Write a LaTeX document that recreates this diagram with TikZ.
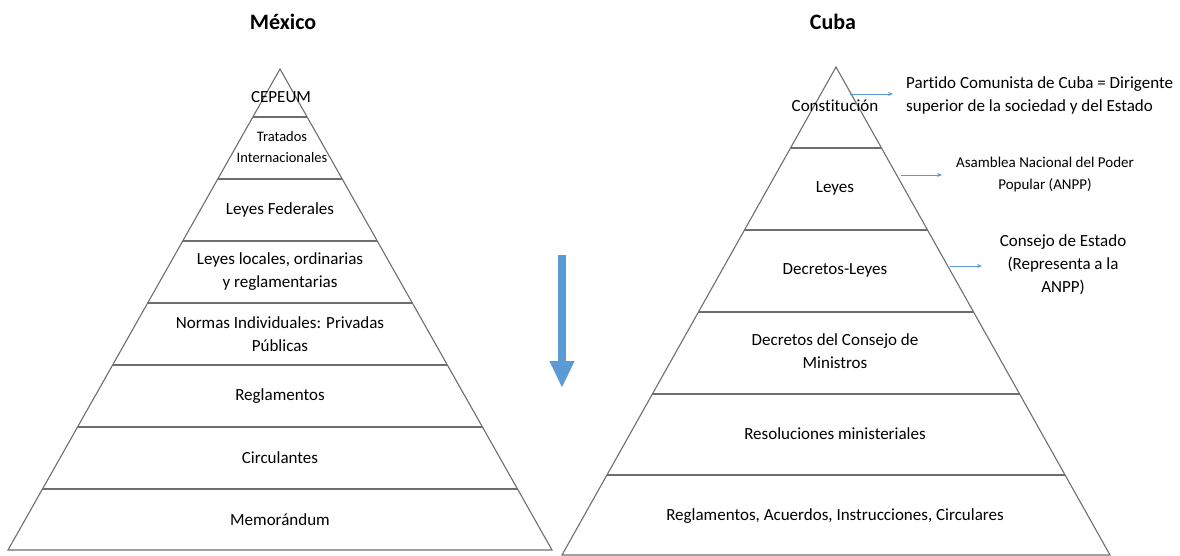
\documentclass[tikz,border=0pt]{standalone}
\usepackage{fontspec}
\setmainfont[Ligatures={NoCommon}]{Carlito}
\usetikzlibrary{calc,arrows.meta}
\definecolor{pline}{HTML}{6E6E6E}
\definecolor{ablue}{HTML}{5B9BD5}
\begin{document}
\begin{tikzpicture}[x=1pt,y=-1pt,
  pyr/.style={draw=pline,line width=1.1pt,line join=miter},
  lvl/.style={draw=pline,line width=1.1pt},
  lab/.style={font=\fontsize{17}{23}\selectfont,align=center,inner sep=0pt},
  slab/.style={font=\fontsize{15}{22}\selectfont,align=center,inner sep=0pt},
  ttl/.style={font=\fontsize{22}{24}\selectfont\bfseries,inner sep=0pt},
  thin/.style={draw=ablue,line width=0.8pt,-{Stealth[length=5pt,width=4pt]}}]
\useasboundingbox (0,0) rectangle (1180,556);
% Mexico pyramid
\coordinate (LA) at (280,69);
\coordinate (LL) at (8,550);
\coordinate (LR) at (552,550);
\draw[pyr] (LL) -- (LA) -- (LR) -- cycle;
\foreach \yy in {117,179,241,303,365,427,489}{
  \pgfmathsetmacro{\t}{(\yy-69)/481}
  \draw[lvl] ($(LA)!\t!(LL)$) -- ($(LA)!\t!(LR)$);
}
\node[ttl] (tmex) at (283,22) {México};
\node[lab] (m1) at (281,97) {CEPEUM};
\node[lab,font=\fontsize{14.5}{21}\selectfont] (m2) at (282,147) {Tratados\\Internacionales};
\node[lab] (m3) at (280,210) {Leyes Federales};
\node[lab] (m4) at (280,272) {Leyes locales, ordinarias\\y reglamentarias};
\node[lab] (m5) at (280,334) {Normas Individuales: Privadas\\Públicas};
\node[lab] (m6) at (280,396) {Reglamentos};
\node[lab] (m7) at (280,458) {Circulantes};
\node[lab] (m8) at (280,520) {Memorándum};
% Cuba pyramid
\coordinate (RA) at (836,67);
\coordinate (RL) at (562,555);
\coordinate (RR) at (1110,555);
\draw[pyr] (RL) -- (RA) -- (RR) -- cycle;
\foreach \yy in {148,230,312,394,475}{
  \pgfmathsetmacro{\t}{(\yy-67)/488}
  \draw[lvl] ($(RA)!\t!(RL)$) -- ($(RA)!\t!(RR)$);
}
\node[ttl] (tcub) at (833,22) {Cuba};
\node[lab] (c1) at (835,106) {Constitución};
\node[lab] (c2) at (835,188) {Leyes};
\node[lab] (c3) at (835,270) {Decretos-Leyes};
\node[lab] (c4) at (835,351) {Decretos del Consejo de\\Ministros};
\node[lab] (c5) at (835,434) {Resoluciones ministeriales};
\node[lab] (c6) at (835,516) {Reglamentos, Acuerdos, Instrucciones, Circulares};
% side notes
\node[lab,align=left,anchor=west] (n1) at (906,95) {Partido Comunista de Cuba = Dirigente\\superior de la sociedad y del Estado};
\node[slab] (n2) at (1045,175) {Asamblea Nacional del Poder\\Popular (ANPP)};
\node[lab] (n3) at (1063,265) {Consejo de Estado\\(Representa a la\\ANPP)};
\coordinate (a1s) at (850,94);  \coordinate (a1e) at (893,94);
\coordinate (a2s) at (901,175); \coordinate (a2e) at (942,175);
\coordinate (a3s) at (950,266); \coordinate (a3e) at (982,266);
\draw[thin] (a1s) -- (a1e);
\draw[thin] (a2s) -- (a2e);
\draw[thin] (a3s) -- (a3e);
% big blue arrow
\coordinate (bs) at (562,255);
\coordinate (be) at (562,388);
\draw[ablue,line width=8pt,-{Triangle[length=27pt,width=23pt]}] (bs) -- (be);
\end{tikzpicture}
\end{document}
